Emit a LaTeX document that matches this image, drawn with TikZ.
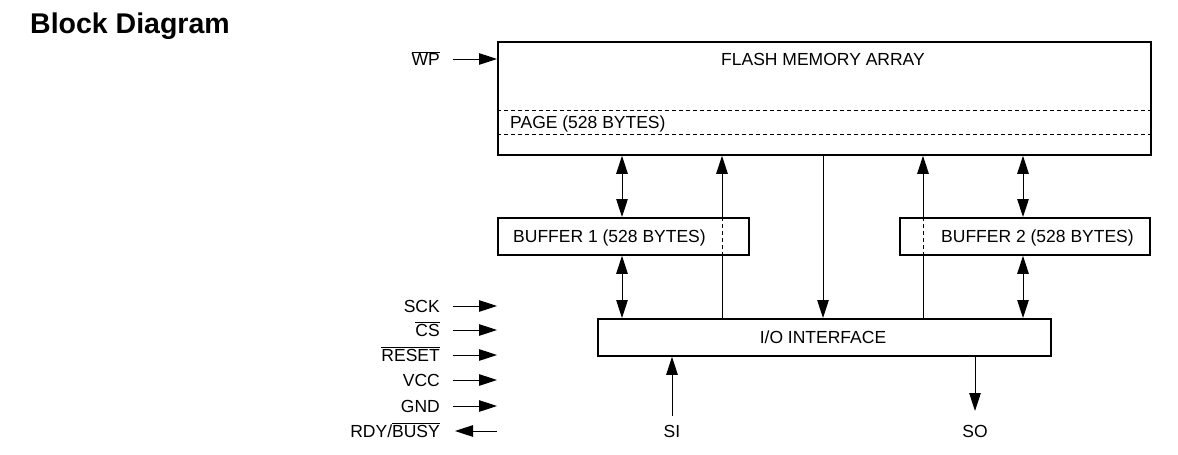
\documentclass[tikz,border=0pt]{standalone}
\usepackage{fontspec}
\setmainfont{Liberation Sans}
\usetikzlibrary{arrows.meta,calc}
\newcommand\ovl[1]{$\overline{\hbox{#1}}$}
\begin{document}
\begin{tikzpicture}[x=1pt,y=-1pt,
  box/.style={draw, line width=1.8pt, rectangle, inner sep=0pt},
  lbl/.style={inner sep=0pt, text height=12.5pt, text depth=0pt, font=\fontsize{17.5}{20}\selectfont},
  conn/.style={line width=1pt},
  tip/.tip={Triangle[length=18pt,width=11.5pt]},
  arr/.style={conn, -tip},
  dbl/.style={conn, tip-tip},
  dsh/.style={conn, dash pattern=on 4pt off 3pt}]
\useasboundingbox (0,0) rectangle (1178,455);
% title
\node[anchor=base west, inner sep=0pt, font=\fontsize{28.5}{32}\selectfont\bfseries] (title) at (30,33) {Block Diagram};
% boxes
\node[box, minimum width=653pt, minimum height=113pt, anchor=north west] (flash) at (497,41) {};
\node[box, minimum width=251pt, minimum height=37pt, anchor=north west] (buf1) at (497,217) {};
\node[box, minimum width=250pt, minimum height=37pt, anchor=north west] (buf2) at (899,217) {};
\node[box, minimum width=453pt, minimum height=37pt, anchor=north west] (io) at (597,318) {};
% texts
\node[lbl] (flashtxt) at (823,59) {FLASH MEMORY ARRAY};
\node[lbl, anchor=west] (pagetxt) at (510,122) {PAGE (528 BYTES)};
\node[lbl, anchor=west] (b1txt) at (513,236) {BUFFER 1 (528 BYTES)};
\node[lbl, anchor=west] (b2txt) at (941,236) {BUFFER 2 (528 BYTES)};
\node[lbl] (iotxt) at (823,337) {I/O INTERFACE};
% page dashed lines
\draw[dsh] (flash.west |- 0,110) coordinate (p1) -- (flash.east |- p1);
\draw[dsh] (flash.west |- 0,134) coordinate (p2) -- (flash.east |- p2);
% WP
\node[lbl, anchor=east] (wp) at (440,59) {\ovl{WP}};
\draw[arr] ([xshift=13pt]wp.east) -- (flash.west |- wp.east);
% vertical connections
\coordinate (xA) at (622,0);
\coordinate (xB) at (722,0);
\coordinate (xC) at (823,0);
\coordinate (xD) at (923,0);
\coordinate (xE) at (1023,0);
\draw[dbl] (flash.south -| xA) -- (buf1.north -| xA);
\draw[dbl] (buf1.south -| xA) -- (io.north -| xA);
\draw[dbl] (flash.south -| xE) -- (buf2.north -| xE);
\draw[dbl] (buf2.south -| xE) -- (io.north -| xE);
\draw[conn] (io.north -| xB) -- (buf1.south -| xB);
\draw[dsh] (buf1.south -| xB) -- (buf1.north -| xB);
\draw[arr] (buf1.north -| xB) -- (flash.south -| xB);
\draw[conn] (io.north -| xD) -- (buf2.south -| xD);
\draw[dsh] (buf2.south -| xD) -- (buf2.north -| xD);
\draw[arr] (buf2.north -| xD) -- (flash.south -| xD);
\draw[arr] (flash.south -| xC) -- (io.north -| xC);
% SI / SO
\node[lbl] (si) at (672,431) {SI};
\node[lbl] (so) at (975,431) {SO};
\coordinate (siS) at (672,416);
\coordinate (soE) at (975,411);
\draw[arr] (siS) -- (io.south -| siS);
\draw[arr] (io.south -| soE) -- (soE);
% left signals
\node[lbl, anchor=east] (sck) at (440,306) {SCK};
\node[lbl, anchor=east] (cs) at (440,330) {\ovl{CS}};
\node[lbl, anchor=east] (reset) at (440,355) {\ovl{RESET}};
\node[lbl, anchor=east] (vcc) at (440,380) {VCC};
\node[lbl, anchor=east] (gnd) at (440,406) {GND};
\node[lbl, anchor=east] (rdy) at (440,431) {RDY/\ovl{BUSY}};
\foreach \n in {sck,cs,reset,vcc,gnd}{
  \coordinate (\n T) at ([xshift=57pt]\n.east);
  \draw[arr] ([xshift=13pt]\n.east) -- (\n T);
}
\coordinate (rdyT) at ([xshift=57pt]rdy.east);
\draw[arr] (rdyT) -- ([xshift=15pt]rdy.east);
\end{tikzpicture}
\end{document}
